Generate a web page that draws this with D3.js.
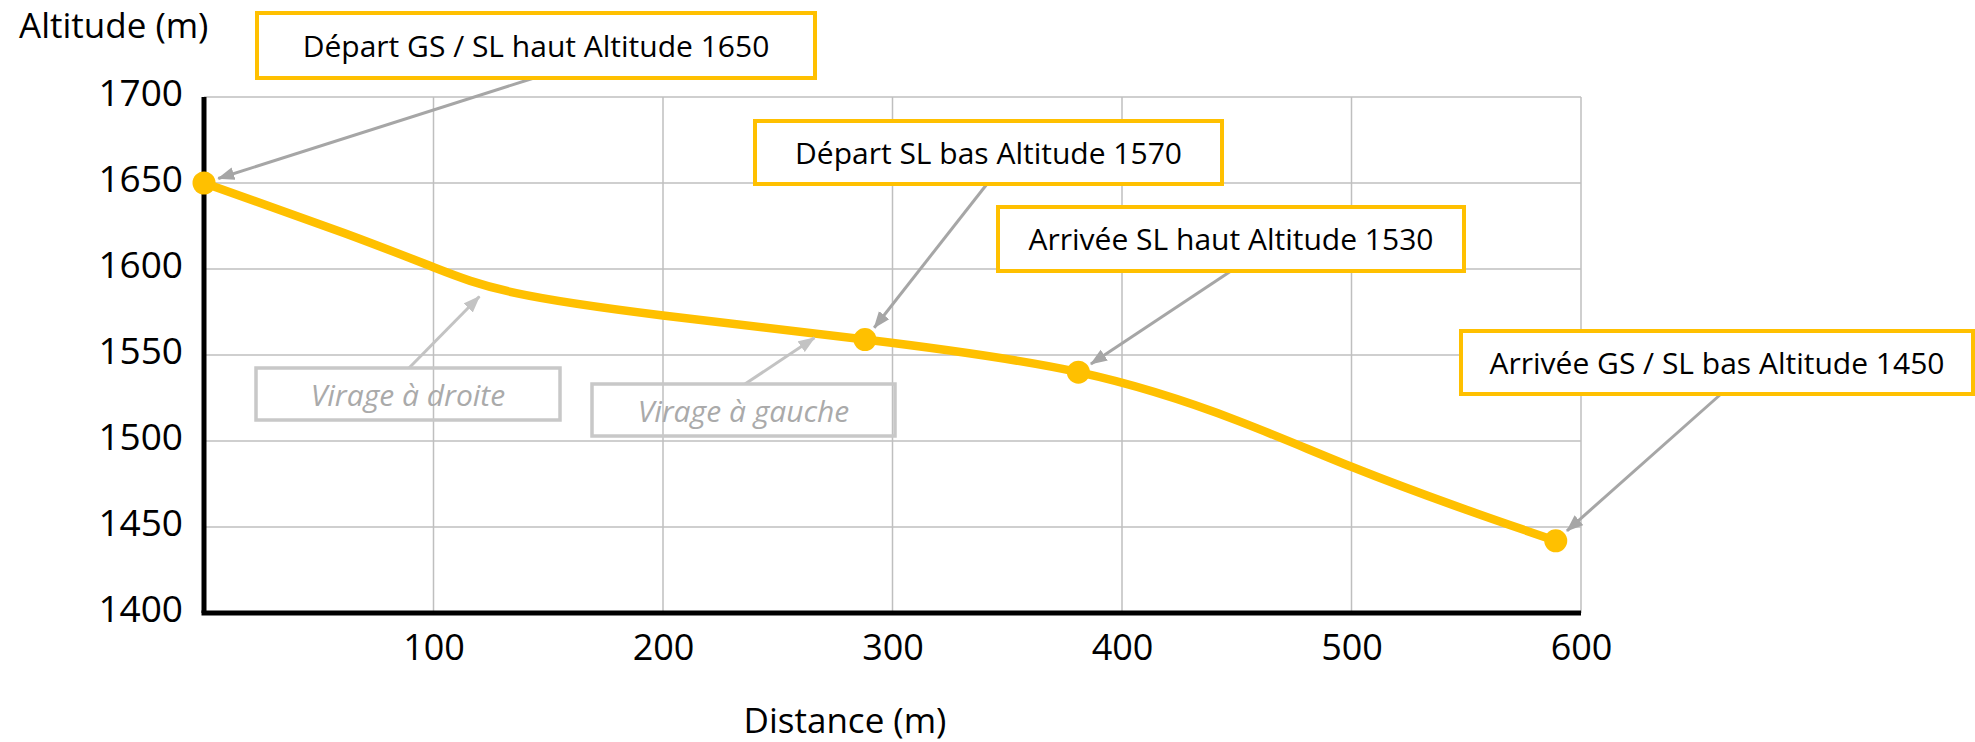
<!DOCTYPE html>
<html>
<head>
<meta charset="utf-8">
<script src="https://cdn.jsdelivr.net/npm/d3@7"></script>
<style>
  body { margin: 0; background: #ffffff; }
  text { font-family: "Open Sans", "Noto Sans", sans-serif; }
</style>
</head>
<body>
<div id="canvas"></div>
<script>
"use strict"

/* Profile of the track */
let distances = [0, 61, 100, 136, 200, 288, 381, 450, 500, 550, 589];
let altitudes = [1650, 1621, 1601, 1586, 1573, 1559, 1540, 1512, 1485, 1460, 1442];

/* Stations (markers) */
let stationDistances = [0, 288, 381, 589];
let stationAltitudes = [1650, 1559, 1540, 1442];
let stationLabels = [
    "Départ GS / SL haut Altitude 1650",
    "Départ SL bas Altitude 1570",
    "Arrivée SL haut Altitude 1530",
    "Arrivée GS / SL bas Altitude 1450"
];

/* Turns */
let turnDistances = [120, 266];
let turnAltitudes = [1584, 1560];
let turnLabels = ["Virage à droite", "Virage à gauche"];

/* Ticks */
let xTicks = [100, 200, 300, 400, 500, 600];
let yTicks = [1400, 1450, 1500, 1550, 1600, 1650, 1700];

/* Box layout: x, y, width, height and arrow start (ax, ay) */
let stationBoxes = [
    { x: 257, y: 13, w: 558, h: 65, ax: 534, ay: 78 },
    { x: 755, y: 121, w: 467, h: 63, ax: 987, ay: 184 },
    { x: 998, y: 207, w: 466, h: 64, ax: 1231, ay: 271 },
    { x: 1461, y: 331, w: 512, h: 63, ax: 1721, ay: 394 }
];
let turnBoxes = [
    { x: 256, y: 368, w: 304, h: 52, ax: 409, ay: 368 },
    { x: 592, y: 384, w: 303, h: 52, ax: 745, ay: 384 }
];

let drawing = d3.select("#canvas")
    .append("svg")
    .attr("width", 1975)
    .attr("height", 742);

let x = d3.scaleLinear().domain([0, 600]).range([204, 1581]);
let y = d3.scaleLinear().domain([1400, 1700]).range([613, 97]);

/* arrow heads */
let defs = drawing.append("defs");
defs.append("marker")
    .attr("id", "headDark")
    .attr("markerUnits", "userSpaceOnUse")
    .attr("viewBox", "0 -7 17 14")
    .attr("refX", 16).attr("refY", 0)
    .attr("markerWidth", 17).attr("markerHeight", 14)
    .attr("orient", "auto")
    .append("path")
    .attr("d", "M0,-6.5L17,0L0,6.5Z")
    .attr("fill", "#a6a6a6");
defs.append("marker")
    .attr("id", "headLight")
    .attr("markerUnits", "userSpaceOnUse")
    .attr("viewBox", "0 -7 17 14")
    .attr("refX", 16).attr("refY", 0)
    .attr("markerWidth", 17).attr("markerHeight", 14)
    .attr("orient", "auto")
    .append("path")
    .attr("d", "M0,-6.5L17,0L0,6.5Z")
    .attr("fill", "#c3c3c3");

/* grid */
let grid = drawing.append("g");
grid.selectAll(".vgrid")
    .data(xTicks)
    .enter().append("line")
    .attr("x1", d => x(d)).attr("x2", d => x(d))
    .attr("y1", y(1700)).attr("y2", y(1400))
    .attr("stroke", "#bfbfbf")
    .attr("stroke-width", 1.5);
grid.selectAll(".hgrid")
    .data(yTicks)
    .enter().append("line")
    .attr("x1", x(0)).attr("x2", x(600))
    .attr("y1", d => y(d)).attr("y2", d => y(d))
    .attr("stroke", "#bfbfbf")
    .attr("stroke-width", 1.5);

/* axes */
let xAxis = drawing.append("g")
    .attr("transform", "translate(0," + y(1400) + ")")
    .call(d3.axisBottom(x).tickValues(xTicks).tickSize(0).tickPadding(16));
xAxis.selectAll("text")
    .attr("font-size", 36)
    .attr("fill", "#000")
    .attr("dy", "0.85em");

let yAxis = drawing.append("g")
    .attr("transform", "translate(" + x(0) + ",0)")
    .call(d3.axisLeft(y).tickValues(yTicks).tickFormat(d3.format("d")).tickSize(0).tickPadding(21));
yAxis.selectAll("text")
    .attr("font-size", 37)
    .attr("fill", "#000")
    .attr("dy", "0.22em");

drawing.selectAll(".domain").remove();
xAxis.append("line")
    .attr("x1", x(0) - 2.5).attr("x2", x(600))
    .attr("stroke", "#000").attr("stroke-width", 5);
yAxis.append("line")
    .attr("y1", y(1700)).attr("y2", y(1400))
    .attr("stroke", "#000").attr("stroke-width", 5);

/* axis titles */
drawing.append("text")
    .attr("x", 19).attr("y", 38)
    .attr("font-size", 35)
    .text("Altitude (m)");
drawing.append("text")
    .attr("x", 845).attr("y", 733)
    .attr("text-anchor", "middle")
    .attr("font-size", 35)
    .text("Distance (m)");

/* the profile line */
let line = d3.line()
    .x((d, i) => x(distances[i]))
    .y((d, i) => y(altitudes[i]))
    .curve(d3.curveNatural);

drawing.append("path")
    .attr("d", line(distances))
    .attr("fill", "none")
    .attr("stroke", "#ffc000")
    .attr("stroke-width", 8.5)
    .attr("stroke-linejoin", "round");

drawing.selectAll(".station")
    .data(stationDistances)
    .enter().append("circle")
    .attr("cx", d => x(d))
    .attr("cy", (d, i) => y(stationAltitudes[i]))
    .attr("r", 11.5)
    .attr("fill", "#ffc000");

/* station callouts */
stationBoxes.forEach(function (b, i) {
    let px = x(stationDistances[i]);
    let py = y(stationAltitudes[i]);
    let dx = px - b.ax, dy = py - b.ay;
    let len = Math.sqrt(dx * dx + dy * dy);
    let k = (len - 15) / len;

    drawing.append("line")
        .attr("x1", b.ax).attr("y1", b.ay)
        .attr("x2", b.ax + dx * k).attr("y2", b.ay + dy * k)
        .attr("stroke", "#a6a6a6")
        .attr("stroke-width", 3)
        .attr("marker-end", "url(#headDark)");

    drawing.append("rect")
        .attr("x", b.x).attr("y", b.y)
        .attr("width", b.w).attr("height", b.h)
        .attr("fill", "#ffffff")
        .attr("stroke", "#ffc000")
        .attr("stroke-width", 4);

    drawing.append("text")
        .attr("x", b.x + b.w / 2)
        .attr("y", b.y + b.h / 2 + 11)
        .attr("text-anchor", "middle")
        .attr("font-size", 30)
        .attr("fill", "#000")
        .text(stationLabels[i]);
});

/* turn callouts */
turnBoxes.forEach(function (b, i) {
    drawing.append("line")
        .attr("x1", b.ax).attr("y1", b.ay)
        .attr("x2", x(turnDistances[i])).attr("y2", y(turnAltitudes[i]))
        .attr("stroke", "#c3c3c3")
        .attr("stroke-width", 3)
        .attr("marker-end", "url(#headLight)");

    drawing.append("rect")
        .attr("x", b.x).attr("y", b.y)
        .attr("width", b.w).attr("height", b.h)
        .attr("fill", "none")
        .attr("stroke", "#c8c8c8")
        .attr("stroke-width", 3.5);

    drawing.append("text")
        .attr("x", b.x + b.w / 2)
        .attr("y", b.y + b.h / 2 + 12)
        .attr("text-anchor", "middle")
        .attr("font-size", 30)
        .attr("font-style", "italic")
        .attr("fill", "#aaaaaa")
        .text(turnLabels[i]);
});
</script>
</body>
</html>
